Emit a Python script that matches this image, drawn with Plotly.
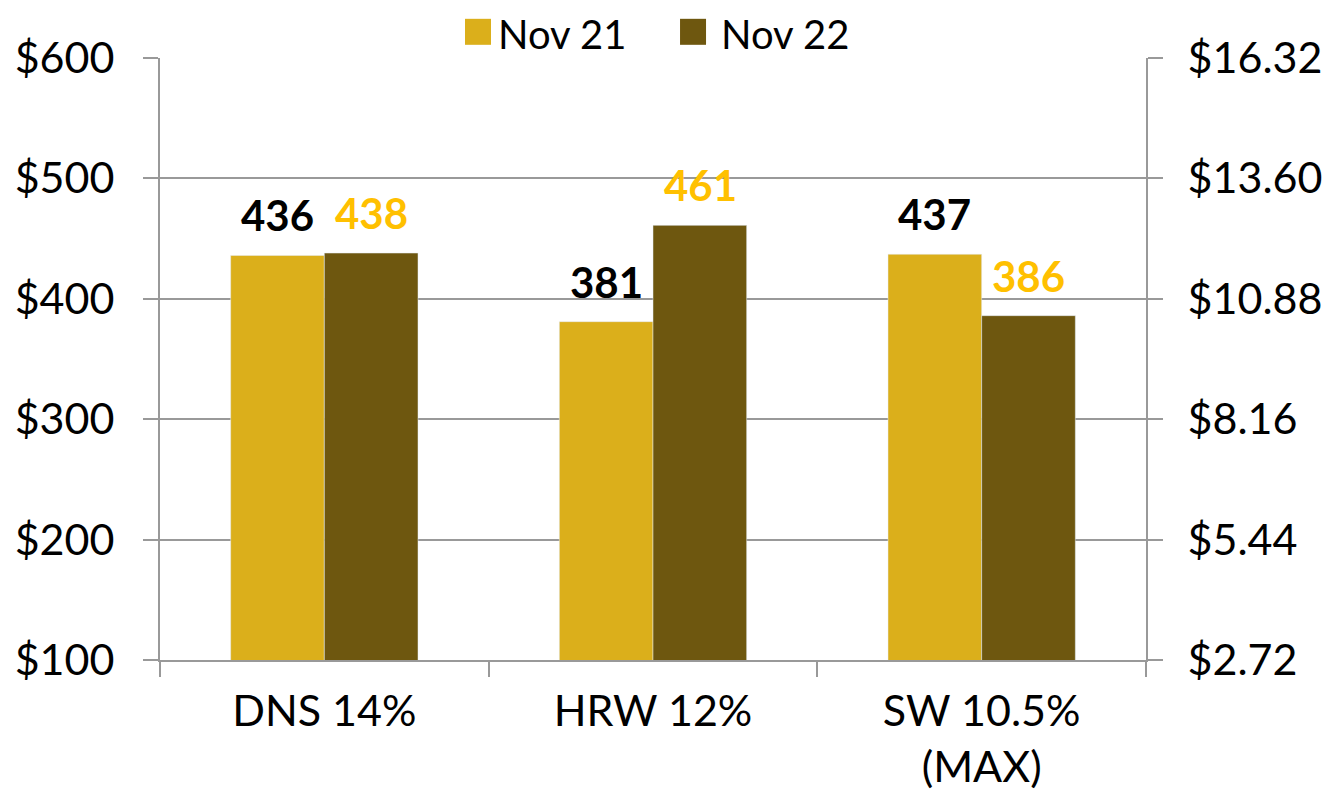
import plotly.graph_objects as go

categories = ["DNS 14%", "HRW 12%", "SW 10.5%<br>(MAX)"]
nov21 = [436, 381, 437]
nov22 = [438, 461, 386]
series_names = ["Nov 21", "Nov 22"]
left_ticks = [100, 200, 300, 400, 500, 600]
right_factor = 0.0272  # $/ton -> $/bu

c21 = "#DBAF1B"
c22 = "#6E570F"
lab21 = "#000000"
lab22 = "#FFC000"
grid = "#999999"
FONT = "Lato"
FS = 43
LFS = 42
LEGFS = 40

fig = go.Figure()
fig.add_trace(go.Bar(x=categories, y=nov21, name=series_names[0], marker_color=c21,
                     showlegend=False))
fig.add_trace(go.Bar(x=categories, y=nov22, name=series_names[1], marker_color=c22,
                     showlegend=False))
# invisible trace for right axis
fig.add_trace(go.Scatter(x=[categories[0]], y=[left_ticks[0] * right_factor], yaxis="y2",
                         mode="markers", marker=dict(opacity=0), showlegend=False,
                         hoverinfo="skip"))

ann = []
for cat, v1, v2 in zip(categories, nov21, nov22):
    ann.append(dict(x=cat, y=v1, xref="x", yref="y", text=f"<b>{v1}</b>", showarrow=False,
                    xshift=-47, yshift=13, yanchor="bottom",
                    font=dict(family=FONT, size=LFS, color=lab21)))
    ann.append(dict(x=cat, y=v2, xref="x", yref="y", text=f"<b>{v2}</b>", showarrow=False,
                    xshift=47, yshift=13, yanchor="bottom",
                    font=dict(family=FONT, size=LFS, color=lab22)))

# legend (top centre): coloured squares + names
legend_sq_x = [0.3225, 0.5406]
legend_tx_x = [0.3408, 0.5669]
shapes = []
for nm, col, sx, tx in zip(series_names, [c21, c22], legend_sq_x, legend_tx_x):
    shapes.append(dict(type="rect", xref="paper", yref="paper",
                       xsizemode="pixel", ysizemode="pixel",
                       xanchor=sx, yanchor=1.0435, x0=-13, x1=13, y0=-13, y1=13,
                       fillcolor=col, line=dict(width=0)))
    ann.append(dict(x=tx, y=1.0831, xref="paper", yref="paper", text=nm,
                    showarrow=False, xanchor="left", yanchor="top",
                    font=dict(family=FONT, size=LEGFS, color="black")))

fig.update_layout(
    width=1334, height=790,
    margin=dict(l=152, r=196, t=50, b=138, autoexpand=False),
    paper_bgcolor="white", plot_bgcolor="white",
    barmode="group", bargap=0.43, bargroupgap=0,
    font=dict(family=FONT, size=FS, color="black"),
    annotations=ann, shapes=shapes, showlegend=False,
    xaxis=dict(type="category", showline=True, linecolor=grid, linewidth=2,
               ticks="outside", tickson="boundaries", ticklen=15, tickcolor=grid,
               tickwidth=2, showgrid=False, tickfont=dict(size=FS), automargin=False,
               ticklabelstandoff=12),
    yaxis=dict(range=[left_ticks[0], left_ticks[-1]], tickvals=left_ticks,
               ticktext=[f"${t}" for t in left_ticks],
               showline=True, linecolor=grid, linewidth=2,
               showgrid=True, gridcolor=grid, gridwidth=2,
               ticks="outside", ticklen=15, tickcolor=grid, tickwidth=2,
               tickfont=dict(size=FS), zeroline=False, automargin=False,
               ticklabelstandoff=20),
    yaxis2=dict(overlaying="y", side="right",
                range=[left_ticks[0] * right_factor, left_ticks[-1] * right_factor],
                tickvals=[t * right_factor for t in left_ticks],
                ticktext=[f"${t * right_factor:.2f}" for t in left_ticks],
                showline=True, linecolor=grid, linewidth=2, showgrid=False,
                ticks="outside", ticklen=15, tickcolor=grid, tickwidth=2,
                tickfont=dict(size=FS), zeroline=False, automargin=False,
                ticklabelstandoff=16),
)

fig.write_html("out.html")
